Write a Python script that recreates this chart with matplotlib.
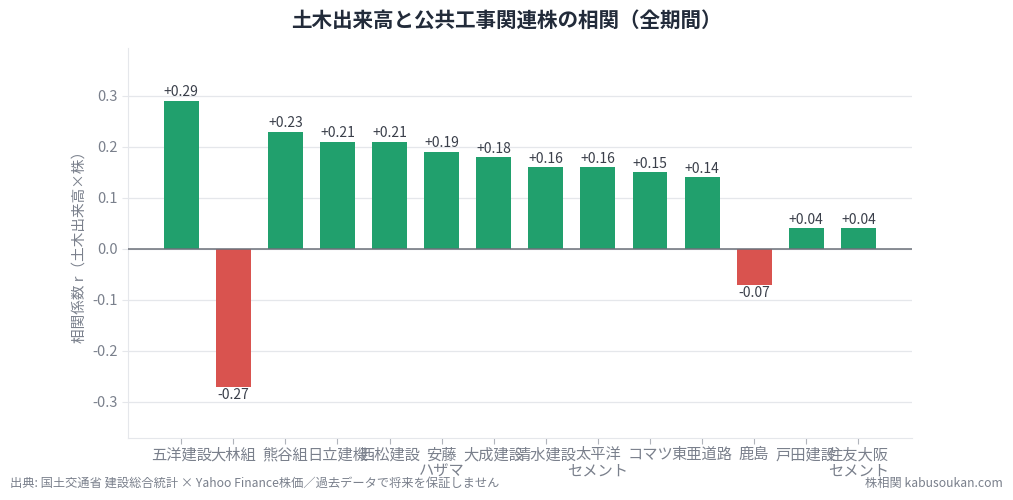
import matplotlib
matplotlib.use("Agg")
import matplotlib.pyplot as plt

plt.rcParams['font.family'] = ['Noto Sans CJK JP', 'DejaVu Sans']

companies = ["五洋建設", "大林組", "熊谷組", "日立建機", "西松建設", "安藤\nハザマ",
             "大成建設", "清水建設", "太平洋\nセメント", "コマツ", "東亜道路", "鹿島",
             "戸田建設", "住友大阪\nセメント"]
corr = [0.29, -0.27, 0.23, 0.21, 0.21, 0.19, 0.18, 0.16, 0.16, 0.15, 0.14, -0.07, 0.04, 0.04]

green = "#21a06d"
red = "#d9534f"
grid_c = "#e5e7eb"
tick_c = "#7a808c"

fig = plt.figure(figsize=(10.13, 5.0), dpi=100)
ax = fig.add_axes([128/1013, 62/500, (912-128)/1013, (438-48)/500])

x = list(range(len(companies)))
colors = [green if v >= 0 else red for v in corr]
ax.bar(x, corr, width=0.67, color=colors, zorder=3)

for xi, v in zip(x, corr):
    if v >= 0:
        ax.text(xi, v + 0.003, "%+.2f" % v, ha="center", va="bottom", fontsize=10, color="#3a3f4a")
    else:
        ax.text(xi, v - 0.003, "%+.2f" % v, ha="center", va="top", fontsize=10, color="#3a3f4a")

ax.axhline(0, color="#6b7079", lw=1.1, zorder=4)
ax.set_xlim(-1.02, 14.03)
ax.set_ylim(-0.371, 0.394)
ax.set_yticks([-0.3, -0.2, -0.1, 0.0, 0.1, 0.2, 0.3])
ax.set_yticklabels(["-0.3", "-0.2", "-0.1", "0.0", "0.1", "0.2", "0.3"])
ax.set_xticks(x)
ax.set_xticklabels(companies, fontsize=11, color=tick_c, linespacing=0.95)
ax.tick_params(axis="y", labelsize=10.5, labelcolor=tick_c, color=grid_c, length=4)
ax.tick_params(axis="x", color="#b0b4bb", length=4, pad=2)
ax.grid(axis="y", color=grid_c, lw=0.9, zorder=0)
for s in ["top", "right"]:
    ax.spines[s].set_visible(False)
for s in ["left", "bottom"]:
    ax.spines[s].set_color(grid_c)
ax.set_ylabel("相関係数 r（土木出来高×株）", fontsize=10.5, color=tick_c)

fig.text(0.5, 1 - 20/500, "土木出来高と公共工事関連株の相関（全期間）", ha="center", va="center",
         fontsize=14.8, fontweight="bold", color="#222b3a")
fig.text(10/1013, 1 - 483/500, "出典: 国土交通省 建設総合統計 × Yahoo Finance株価／過去データで将来を保証しません",
         ha="left", va="center", fontsize=8.8, color=tick_c)
fig.text(1003/1013, 1 - 483/500, "株相関 kabusoukan.com", ha="right", va="center", fontsize=8.8, color=tick_c)

fig.savefig("out.png", dpi=100)
